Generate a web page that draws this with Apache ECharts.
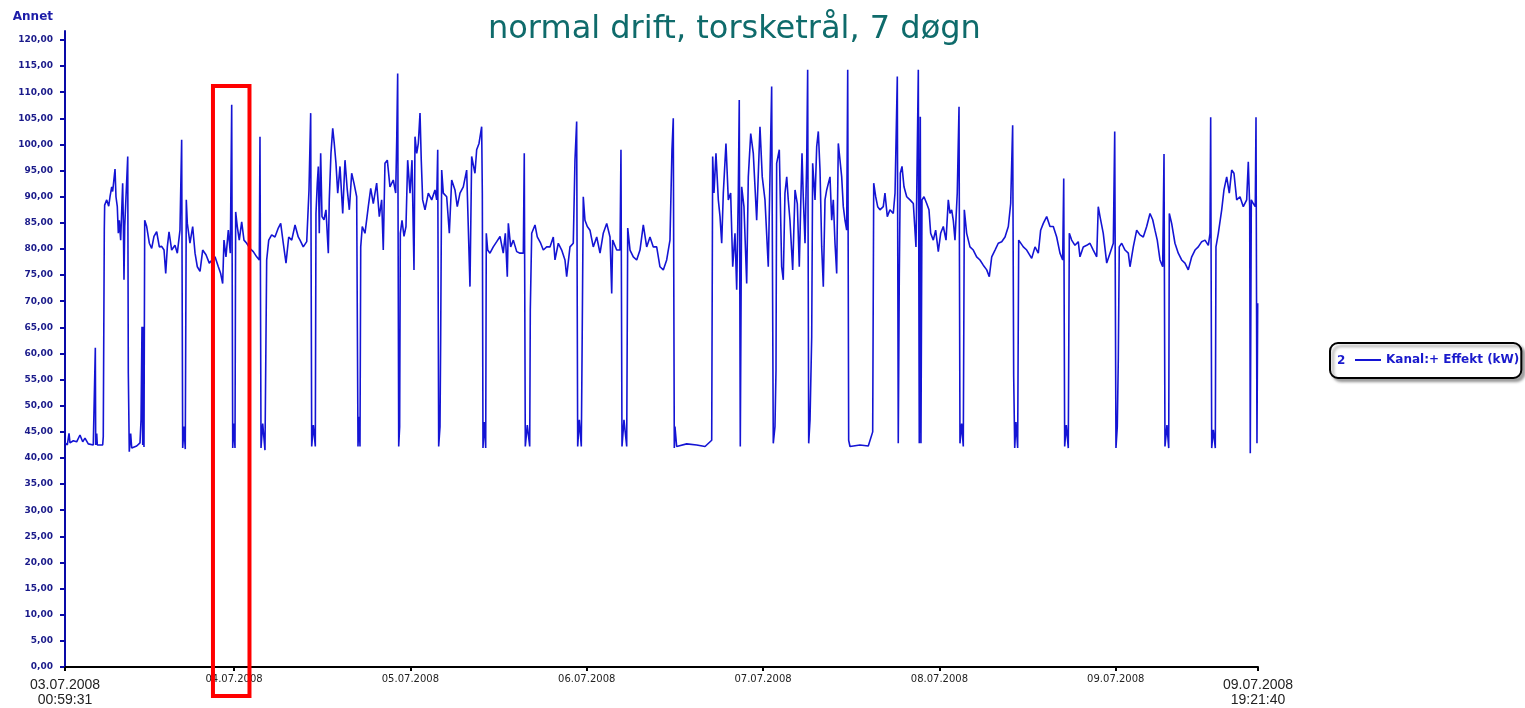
<!DOCTYPE html>
<html><head><meta charset="utf-8">
<script src="https://cdn.jsdelivr.net/npm/echarts@6/dist/echarts.min.js"></script>
<style>html,body{margin:0;padding:0;background:#fff}#c{width:1525px;height:708px}</style>
</head><body><div id="c"></div>
<script>
const chartTitle = 'normal drift, torsketrål, 7 døgn';
const seriesName = 'Kanal:+ Effekt (kW)';
const legendNumber = '2';
const yAxisName = 'Annet';
// time axis in hours since 03.07.2008 00:00
const xStart = 0.9919;   // 03.07.2008 00:59:31
const xEnd = 163.3611;   // 09.07.2008 19:21:40
const xTickValues = [xStart, 24, 48, 72, 96, 120, 144, xEnd];
const xTickLabels = ['03.07.2008\n00:59:31', '04.07.2008', '05.07.2008', '06.07.2008', '07.07.2008', '08.07.2008', '09.07.2008', '09.07.2008\n19:21:40'];
const yTickValues = [0,5,10,15,20,25,30,35,40,45,50,55,60,65,70,75,80,85,90,95,100,105,110,115,120];

const hours = [
0.99,1.31,1.54,1.67,2.12,2.58,3.03,3.40,3.71,4.16,4.84,5.08,5.12,5.17,5.31,5.39,6.12,6.20,6.34,6.39,
6.67,6.94,7.12,7.35,7.48,7.80,7.93,8.11,8.25,8.38,8.57,8.84,8.93,9.02,9.12,9.39,9.53,9.61,9.74,9.93,
10.07,10.75,11.20,11.34,11.47,11.57,11.65,11.74,11.84,12.11,12.47,12.79,13.10,13.47,13.83,14.15,14.47,14.70,14.92,15.15,
15.51,15.96,16.28,16.64,16.87,17.01,17.19,17.36,17.50,17.64,18.00,18.37,18.69,19.00,19.37,19.73,20.18,20.63,21.41,21.86,
22.18,22.45,22.63,22.90,23.22,23.49,23.68,23.82,23.95,24.13,24.22,24.44,24.71,25.04,25.35,25.72,26.17,26.62,27.08,27.44,
27.53,27.67,27.90,28.21,28.44,28.72,29.12,29.57,30.02,30.35,30.70,31.07,31.44,31.85,32.30,32.74,32.98,33.42,33.89,34.20,
34.43,34.57,34.79,35.06,35.15,35.33,35.47,35.60,35.79,35.97,36.24,36.51,36.83,36.96,37.19,37.43,37.64,37.87,38.11,38.42,
38.79,39.10,39.41,39.69,40.01,40.32,40.69,40.87,41.01,41.14,41.24,41.45,41.82,42.27,42.60,42.95,43.41,43.77,44.09,44.31,
44.54,44.86,45.22,45.67,46.00,46.14,46.27,46.41,46.54,46.63,46.86,47.13,47.40,47.63,47.95,48.22,48.49,48.63,48.86,49.08,
49.31,49.48,49.67,49.99,50.44,50.90,51.35,51.58,51.72,51.85,52.03,52.12,52.26,52.48,52.94,53.30,53.62,54.07,54.38,54.75,
55.20,55.66,56.11,56.34,56.79,57.02,57.34,57.70,57.79,57.88,58.06,58.25,58.33,58.52,58.83,59.28,59.75,60.20,60.64,60.92,
61.19,61.33,61.65,62.01,62.47,62.92,63.37,63.50,63.64,63.91,64.24,64.32,64.51,64.96,65.27,65.73,66.09,66.55,67.00,67.45,
67.68,68.13,68.59,69.04,69.27,69.72,70.17,70.40,70.63,70.77,70.99,71.26,71.36,71.53,71.76,72.08,72.44,72.89,73.36,73.81,
74.25,74.72,75.17,75.40,75.53,76.08,76.53,76.66,76.80,77.07,77.44,77.58,77.89,78.34,78.80,79.25,79.70,80.16,80.61,81.06,
81.52,81.97,82.42,82.88,83.33,83.60,83.78,83.92,84.01,84.24,85.61,86.97,88.10,89.01,89.14,89.32,89.59,89.91,90.14,90.37,
90.59,90.95,91.27,91.59,91.87,92.18,92.41,92.63,92.76,92.90,93.09,93.40,93.77,93.99,94.32,94.67,94.90,95.13,95.58,95.89,
96.26,96.71,96.94,97.17,97.39,97.62,97.76,97.85,98.21,98.53,98.75,98.98,99.22,99.43,99.66,100.03,100.35,100.66,100.93,101.12,
101.30,101.47,101.71,101.94,102.07,102.21,102.39,102.62,102.75,103.07,103.30,103.52,103.75,103.98,104.20,104.43,104.66,105.11,105.34,105.56,
105.79,106.02,106.24,106.47,106.70,106.92,107.15,107.38,107.52,107.65,107.83,109.19,110.32,110.92,111.06,111.33,111.60,111.91,112.36,112.59,
112.91,113.27,113.72,113.96,114.27,114.40,114.54,114.68,114.91,115.18,115.55,116.00,116.45,116.81,116.91,117.13,117.26,117.40,117.49,117.63,
117.90,118.27,118.58,118.81,119.17,119.49,119.85,120.17,120.53,120.90,121.21,121.44,121.67,121.89,122.12,122.43,122.67,122.80,123.03,123.25,
123.39,123.71,124.16,124.61,125.07,125.52,125.97,126.44,126.79,127.12,127.57,128.01,128.48,128.93,129.38,129.70,129.97,130.11,130.25,130.42,
130.65,130.79,131.42,131.88,132.56,133.01,133.46,133.78,134.14,134.60,135.05,135.50,135.96,136.41,136.78,136.92,137.05,137.27,137.54,137.68,
138.00,138.45,138.90,139.13,139.58,140.05,140.49,140.94,141.41,141.62,141.86,142.30,142.77,143.22,143.67,143.86,144.03,144.21,144.35,144.48,
144.81,145.26,145.71,145.94,146.39,146.85,147.30,147.75,148.21,148.66,149.03,149.34,149.65,150.02,150.39,150.57,150.70,150.97,151.21,151.29,
151.61,152.06,152.51,152.97,153.42,153.87,154.34,154.79,155.23,155.70,156.15,156.60,156.83,156.92,157.06,157.28,157.55,157.64,157.96,158.42,
158.73,159.10,159.45,159.78,160.09,160.46,160.91,161.36,161.82,162.04,162.23,162.31,162.45,162.72,162.99,163.09,163.22,163.32
];
const kw = [
42.9,42.5,44.7,42.9,43.3,43.1,44.4,43.1,43.8,42.7,42.5,42.5,61.1,42.5,44.7,42.5,42.5,44.1,83.6,88.4,
89.4,88.2,90.0,91.9,91.0,95.3,90.0,88.1,83.0,85.5,81.7,92.6,85.5,74.1,84.3,84.3,97.7,56.2,41.2,44.7,
41.9,42.3,42.9,47.3,65.1,42.5,65.1,42.1,85.5,84.3,81.1,80.1,82.4,83.3,80.4,80.5,79.8,75.3,80.4,83.3,
79.8,80.7,79.2,83.6,100.9,41.9,46.0,41.7,89.4,84.9,81.1,84.3,79.2,76.6,75.7,79.8,78.9,77.3,78.5,76.6,
75.3,73.4,81.7,78.5,83.6,79.2,107.6,41.9,46.6,41.9,87.1,84.3,81.7,85.2,81.7,81.1,80.1,79.5,78.5,77.9,
101.5,41.9,46.6,41.5,77.9,81.7,82.7,82.3,84.0,84.9,81.1,77.3,82.3,81.7,84.6,82.3,81.7,80.4,81.4,91.3,
106.0,42.2,46.3,42.2,86.8,92.6,95.8,83.0,98.3,86.2,85.6,87.5,79.2,89.4,98.3,103.1,100.2,96.4,90.7,95.8,
86.8,97.0,91.3,87.5,94.5,92.6,90.0,42.2,47.9,42.2,80.4,84.3,83.0,88.1,91.6,88.7,92.6,86.2,89.4,79.8,
96.4,97.0,91.9,93.2,90.7,100.9,113.6,42.2,46.0,83.0,85.5,82.4,84.3,97.0,90.7,97.0,76.0,101.5,98.3,100.2,
106.0,97.0,89.4,87.5,90.7,89.4,91.3,89.4,99.0,42.2,46.0,62.6,95.1,90.7,90.0,83.0,93.2,91.3,88.1,90.7,
91.9,95.1,72.8,97.7,94.5,99.0,100.2,103.4,90.7,41.9,46.9,41.9,83.0,79.8,79.2,80.4,81.4,82.4,79.2,83.0,
74.7,84.9,80.4,81.7,79.5,79.2,79.2,98.3,42.2,46.3,42.2,68.3,83.0,84.6,82.3,81.1,79.8,80.4,80.4,82.3,
77.9,81.1,79.8,77.9,74.7,80.4,81.1,97.0,104.4,42.2,47.3,42.2,59.1,90.0,85.5,84.3,83.6,80.4,82.3,79.2,
83.0,84.9,82.3,71.5,81.7,79.8,79.8,99.0,42.2,47.3,42.2,84.0,79.8,78.5,77.9,79.8,84.6,80.4,82.3,80.4,
80.4,76.6,76.0,77.9,81.7,99.0,105.0,41.9,46.0,42.2,42.7,42.5,42.2,43.4,97.7,90.7,98.3,89.4,86.2,81.1,
90.7,100.2,89.4,90.7,76.6,83.0,72.2,90.7,108.5,42.2,91.9,88.1,73.4,93.8,102.1,98.3,91.9,85.5,103.4,93.8,
89.4,76.6,93.8,111.1,42.8,46.0,56.8,96.4,99.0,76.6,74.1,90.7,93.8,89.4,85.5,76.0,91.3,88.7,76.6,88.1,
98.3,90.0,81.1,97.0,114.3,42.8,47.3,63.2,96.4,89.4,99.6,102.5,95.1,80.4,72.8,89.4,91.3,93.8,85.5,89.4,
81.1,75.3,100.2,97.0,93.8,88.1,85.5,83.6,114.3,43.4,42.2,42.5,42.3,45.0,92.6,90.0,88.1,87.5,88.1,90.7,
86.2,87.5,86.8,90.7,113.0,42.8,74.7,94.5,95.8,91.9,90.0,89.4,88.7,80.4,90.0,114.3,42.8,105.3,42.8,89.4,
90.0,88.7,87.5,83.0,81.7,83.6,79.5,83.0,84.3,81.7,89.4,86.8,87.5,85.5,81.7,90.7,107.2,42.8,46.6,42.2,
87.5,83.0,80.4,79.8,78.5,77.9,76.9,76.0,74.7,78.5,79.8,81.1,81.4,82.3,84.3,88.7,103.7,55.6,41.9,46.9,
41.9,81.7,80.4,79.8,78.2,80.4,79.2,83.6,84.9,86.2,84.3,84.3,82.3,79.2,77.9,93.5,42.2,46.3,41.9,83.0,
81.7,80.7,81.4,78.5,80.4,80.7,81.1,79.8,78.5,88.1,86.2,83.0,77.3,79.2,81.1,102.5,41.9,46.0,59.1,80.4,
81.1,79.8,79.2,76.6,80.4,83.6,82.7,82.3,84.3,86.8,85.6,83.6,81.7,77.9,76.6,98.2,42.2,46.3,41.9,86.8,
84.9,81.1,79.2,77.9,77.3,76.0,78.5,79.8,80.4,81.4,81.7,80.7,83.0,105.2,41.9,45.4,41.9,80.4,83.0,87.5,
91.3,93.8,90.7,95.1,94.5,89.4,90.0,88.1,89.4,96.7,88.1,40.9,89.4,88.7,88.1,105.2,42.8,69.6
];
// annotation box (red frame) in data units: hours and kW
const highlight = { from: 21.13, to: 26.10, top: 111.2, bottom: -5.55 };

const chart = echarts.init(document.getElementById('c'), null, {renderer: 'canvas'});
const seriesData = hours.map((h, i) => [h, kw[i]]);

function xLabel(value) {
  let idx = -1;
  for (let i = 0; i < xTickValues.length; i++) {
    if (Math.abs(xTickValues[i] - value) < 1e-6) { idx = i; break; }
  }
  if (idx < 0) return '';
  const txt = xTickLabels[idx];
  if (idx === 0 || idx === xTickValues.length - 1) {
    const parts = txt.split('\n');
    return '{big1|' + parts[0] + '}\n{big2|' + parts[1] + '}';
  }
  return '{small|' + txt + '}';
}

chart.setOption({
  animation: false,
  backgroundColor: '#ffffff',
  title: {
    text: chartTitle,
    left: 483, top: 9,
    textStyle: { color: '#0f6b6b', fontSize: 32, fontWeight: 'normal', fontFamily: 'DejaVu Sans' }
  },
  grid: { left: 65, right: 267, top: 31, bottom: 41, containLabel: false },
  legend: {
    data: [seriesName],
    left: 1330, top: 343,
    icon: 'rect', itemWidth: 26, itemHeight: 2,
    padding: [11, 2, 12, 25],
    borderColor: '#000', borderWidth: 2, borderRadius: 8,
    backgroundColor: '#ffffff',
    shadowColor: 'rgba(0,0,0,0.35)', shadowBlur: 3, shadowOffsetX: 3, shadowOffsetY: 3,
    textStyle: { color: '#1a1acc', fontWeight: 'bold', fontSize: 12, fontFamily: 'DejaVu Sans' }
  },
  xAxis: {
    type: 'value', min: xStart, max: xEnd,
    axisLine: { show: true, onZero: false, lineStyle: { color: '#000', width: 2 } },
    axisTick: { show: true, customValues: xTickValues, length: 4, lineStyle: { color: '#000', width: 2 } },
    axisLabel: {
      customValues: xTickValues, formatter: xLabel, margin: 8,
      rich: {
        big1: { fontSize: 14, fontFamily: 'Liberation Sans', color: '#222', lineHeight: 20 },
        big2: { fontSize: 14, fontFamily: 'Liberation Sans', color: '#222', lineHeight: 10 },
        small: { fontSize: 10, fontFamily: 'DejaVu Sans', color: '#222', lineHeight: 8 }
      }
    },
    splitLine: { show: false }
  },
  yAxis: {
    type: 'value', min: 0, max: 121.72,
    name: yAxisName, nameLocation: 'end', nameGap: 8,
    nameTextStyle: { color: '#1c1ca8', fontWeight: 'bold', fontSize: 12, fontFamily: 'DejaVu Sans', align: 'right', padding: [0, 12, 0, 0] },
    axisLine: { show: true, onZero: false, lineStyle: { color: '#0a0aa8', width: 2 } },
    axisTick: { show: true, customValues: yTickValues, length: 5, lineStyle: { color: '#0a0aa8', width: 2 } },
    axisLabel: {
      customValues: yTickValues,
      formatter: v => v.toFixed(2).replace('.', ','),
      color: '#1a1a8a', fontSize: 9, fontWeight: 'bold', fontFamily: 'DejaVu Sans', margin: 12
    },
    splitLine: { show: false }
  },
  series: [{
    type: 'line', name: seriesName, data: seriesData,
    showSymbol: false, symbol: 'none',
    lineStyle: { color: '#1414d4', width: 1.6 },
    itemStyle: { color: '#1414d4' },
    clip: true
  }]
});

const p1 = chart.convertToPixel({ gridIndex: 0 }, [highlight.from, highlight.top]);
const p2 = chart.convertToPixel({ gridIndex: 0 }, [highlight.to, highlight.bottom]);
chart.setOption({
  graphic: [
    { type: 'rect', z: 100,
      shape: { x: p1[0], y: p1[1], width: p2[0] - p1[0], height: p2[1] - p1[1] },
      style: { fill: 'none', stroke: '#ff0000', lineWidth: 4 } },
    { type: 'text', z: 110, left: 1337, top: 355,
      style: { text: legendNumber, fill: '#1a1acc', font: 'bold 12px "DejaVu Sans"' } }
  ]
});
</script>
</body></html>
